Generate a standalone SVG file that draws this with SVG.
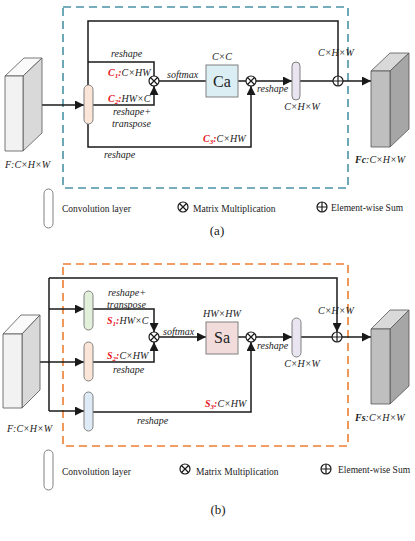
<svg xmlns="http://www.w3.org/2000/svg" width="415" height="541" viewBox="0 0 415 541">
<style>
text{font-family:"Liberation Serif","Times New Roman",serif;fill:#222}
.it{font-style:italic;font-size:10px}
.red{fill:#e8141b;font-weight:bold}
.b{font-weight:bold}
.ln{fill:none;stroke:#1a1a1a;stroke-width:1.5}
.arr{marker-end:url(#ah)}
.op{fill:#fff;stroke:#1a1a1a;stroke-width:1.2}
.opl{stroke:#1a1a1a;stroke-width:1.2}
.cube{stroke:#555;stroke-width:0.8}
.conv{stroke:#808080;stroke-width:1}
.lg{font-size:9.5px}
.cap{font-size:13px}
.big{font-size:16px}
</style>
<defs>
<marker id="ah" markerWidth="9" markerHeight="9" refX="9" refY="4.5" orient="auto" markerUnits="userSpaceOnUse">
<path d="M0,0 L9,4.5 L0,9 Z" fill="#1a1a1a"/>
</marker>
<g id="otimes"><circle r="5" class="op"/><path d="M-3.5,-3.5 L3.5,3.5 M3.5,-3.5 L-3.5,3.5" class="opl"/></g>
<g id="oplus"><circle r="5" class="op"/><path d="M-5,0 H5 M0,-5 V5" class="opl"/></g>
</defs>

<!-- ========== Panel (a) ========== -->
<rect id="boxA" x="63" y="7" width="285" height="181" fill="none" stroke="#4a93a6" stroke-width="1.6" stroke-dasharray="8,5"/>

<g id="connectorsA">
<path class="ln arr" d="M42,105 H84"/>
<path class="ln" d="M88,85 V21 H338 V76"/>
<path class="ln" d="M88,62 H154 V76"/>
<path class="ln arr" d="M93,105 H154 V86"/>
<path class="ln arr" d="M88,124 V147 H251 V86"/>
<path class="ln" d="M159,81 H206"/>
<path class="ln" d="M238,81 H246"/>
<path class="ln arr" d="M256,81 H292"/>
<path class="ln" d="M300,81 H333"/>
<path class="ln arr" d="M343,81 H371"/>
</g>

<g id="inputA">
<polygon class="cube" points="5,76 24,58 42,58 23,76" fill="#fafafa"/>
<polygon class="cube" points="23,76 42,58 42,133 23,151" fill="#d9d9d9"/>
<polygon class="cube" points="5,76 23,76 23,151 5,151" fill="#f2f2f2"/>
<text class="it" x="5" y="168">F:C×H×W</text>
</g>

<g id="convA1"><rect class="conv" x="84" y="85" width="9" height="39" rx="4.5" fill="#fbe5d6"/></g>
<g id="mulA1"><use href="#otimes" x="154" y="81"/></g>
<g id="caBox">
<rect x="206" y="65" width="32" height="32" fill="#dbeef4" stroke="#808080" stroke-width="1"/>
<text class="big" x="222" y="87" text-anchor="middle">Ca</text>
<text class="it" x="222" y="60" text-anchor="middle">C×C</text>
</g>
<g id="mulA2"><use href="#otimes" x="251" y="81"/></g>
<g id="convA2"><rect class="conv" x="292" y="62" width="8" height="38" rx="4" fill="#e8e4f0"/></g>
<g id="sumA"><use href="#oplus" x="338" y="81"/></g>
<g id="outputA">
<polygon class="cube" points="371,71 390,53 409,53 390,71" fill="#d9d9d9"/>
<polygon class="cube" points="390,71 409,53 409,129 390,147" fill="#a6a6a6"/>
<polygon class="cube" points="371,71 390,71 390,147 371,147" fill="#bfbfbf"/>
<text class="it" x="355" y="163"><tspan class="b">Fc</tspan>:C×H×W</text>
</g>

<g id="labelsA">
<text class="it" x="111" y="57">reshape</text>
<text class="it" x="108" y="76"><tspan class="red">C<tspan font-size="7" dy="2">1</tspan><tspan dy="-2">:</tspan></tspan>C×HW</text>
<text class="it" x="167" y="78">softmax</text>
<text class="it" x="108" y="102"><tspan class="red">C<tspan font-size="7" dy="2">2</tspan><tspan dy="-2">:</tspan></tspan>HW×C</text>
<text class="it" x="113" y="115">reshape+</text>
<text class="it" x="112" y="127">transpose</text>
<text class="it" x="104" y="158">reshape</text>
<text class="it" x="203" y="142"><tspan class="red">C<tspan font-size="7" dy="2">3</tspan><tspan dy="-2">:</tspan></tspan>C×HW</text>
<text class="it" x="257" y="92">reshape</text>
<text class="it" x="302" y="110" text-anchor="middle">C×H×W</text>
<text class="it" x="318" y="56">C×H×W</text>
</g>

<g id="legendA">
<rect class="conv" x="44" y="189" width="9" height="39" rx="4.5" fill="#fff" stroke="#555"/>
<text class="lg" x="62" y="212">Convolution layer</text>
<use href="#otimes" x="183" y="207"/>
<text class="lg" x="193" y="212">Matrix Multiplication</text>
<use href="#oplus" x="322" y="207"/>
<text class="lg" x="331" y="211">Element-wise Sum</text>
<text class="cap" x="217" y="235" text-anchor="middle">(a)</text>
</g>

<!-- ========== Panel (b) ========== -->
<rect id="boxB" x="63" y="264" width="285" height="182" fill="none" stroke="#ed7d31" stroke-width="1.6" stroke-dasharray="8,5"/>

<g id="connectorsB">
<path class="ln" d="M49,278 V411"/>
<path class="ln arr" d="M49,278 H337 V332"/>
<path class="ln arr" d="M49,309 H84"/>
<path class="ln arr" d="M40,362 H84"/>
<path class="ln arr" d="M49,411 H84"/>
<path class="ln arr" d="M93,309 H154 V332"/>
<path class="ln arr" d="M93,362 H154 V342"/>
<path class="ln arr" d="M93,412 H251 V342"/>
<path class="ln arr" d="M159,337 H206"/>
<path class="ln" d="M238,337 H246"/>
<path class="ln arr" d="M256,337 H292"/>
<path class="ln" d="M301,337 H332"/>
<path class="ln arr" d="M342,337 H371"/>
</g>

<g id="inputB">
<polygon class="cube" points="3,334 21,315 40,315 22,334" fill="#fafafa"/>
<polygon class="cube" points="22,334 40,315 40,390 22,408" fill="#d9d9d9"/>
<polygon class="cube" points="3,334 22,334 22,408 3,408" fill="#f2f2f2"/>
<text class="it" x="7" y="432">F:C×H×W</text>
</g>

<g id="convB1"><rect class="conv" x="84" y="291" width="9" height="39" rx="4.5" fill="#e2efda"/></g>
<g id="convB2"><rect class="conv" x="84" y="342" width="9" height="39" rx="4.5" fill="#fbe5d6"/></g>
<g id="convB3"><rect class="conv" x="84" y="392" width="9" height="39" rx="4.5" fill="#deebf7"/></g>
<g id="mulB1"><use href="#otimes" x="154" y="337"/></g>
<g id="saBox">
<rect x="206" y="322" width="32" height="32" fill="#f2dcdb" stroke="#808080" stroke-width="1"/>
<text class="big" x="222" y="343" text-anchor="middle">Sa</text>
<text class="it" x="222" y="317" text-anchor="middle">HW×HW</text>
</g>
<g id="mulB2"><use href="#otimes" x="251" y="337"/></g>
<g id="convB4"><rect class="conv" x="292" y="318" width="9" height="39" rx="4.5" fill="#e8e4f0"/></g>
<g id="sumB"><use href="#oplus" x="337" y="337"/></g>
<g id="outputB">
<polygon class="cube" points="371,329 390,310 409,310 390,329" fill="#d9d9d9"/>
<polygon class="cube" points="390,329 409,310 409,386 390,404" fill="#a6a6a6"/>
<polygon class="cube" points="371,329 390,329 390,404 371,404" fill="#bfbfbf"/>
<text class="it" x="355" y="421"><tspan class="b">Fs</tspan>:C×H×W</text>
</g>

<g id="labelsB">
<text class="it" x="108" y="296">reshape+</text>
<text class="it" x="107" y="308">transpose</text>
<text class="it" x="107" y="324"><tspan class="red">S<tspan font-size="7" dy="2">1</tspan><tspan dy="-2">:</tspan></tspan>HW×C</text>
<text class="it" x="163" y="335">softmax</text>
<text class="it" x="107" y="359"><tspan class="red">S<tspan font-size="7" dy="2">2</tspan><tspan dy="-2">:</tspan></tspan>C×HW</text>
<text class="it" x="113" y="373">reshape</text>
<text class="it" x="137" y="424">reshape</text>
<text class="it" x="205" y="407"><tspan class="red">S<tspan font-size="7" dy="2">3</tspan><tspan dy="-2">:</tspan></tspan>C×HW</text>
<text class="it" x="257" y="349">reshape</text>
<text class="it" x="302" y="367" text-anchor="middle">C×H×W</text>
<text class="it" x="318" y="314">C×H×W</text>
</g>

<g id="legendB">
<rect class="conv" x="44" y="450" width="9" height="40" rx="4.5" fill="#fff" stroke="#555"/>
<text class="lg" x="62" y="475">Convolution layer</text>
<use href="#otimes" x="185" y="469"/>
<text class="lg" x="196" y="475">Matrix Multiplication</text>
<use href="#oplus" x="326" y="469"/>
<text class="lg" x="338" y="473">Element-wise Sum</text>
<text class="cap" x="218" y="514" text-anchor="middle">(b)</text>
</g>
</svg>
